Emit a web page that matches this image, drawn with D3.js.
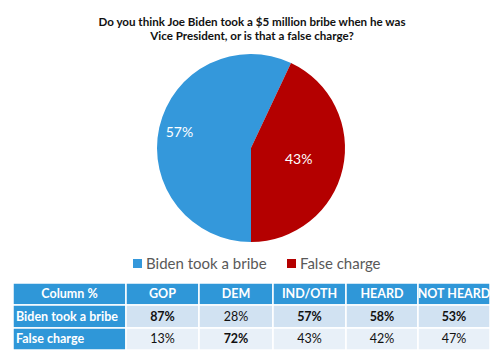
<!DOCTYPE html>
<html>
<head>
<meta charset="utf-8">
<script src="https://cdn.jsdelivr.net/npm/d3@7"></script>
<style>
  body { margin: 0; background: #fff; }
  svg { display: block; font-family: Lato, "Open Sans", sans-serif; }
</style>
</head>
<body>
<svg id="chart" width="500" height="361"></svg>
<script>
// pie data
const sliceLabels = ["Biden took a bribe", "False charge"];
const sliceValues = [57, 43];
const sliceColors = ["#3498db", "#b40000"];

// table data
const columnHeaders = ["Column %", "GOP", "DEM", "IND/OTH", "HEARD", "NOT HEARD"];
const rowLabels = ["Biden took a bribe", "False charge"];
const bribeRow = [87, 28, 57, 58, 53];
const falseRow = [13, 72, 43, 42, 47];
const bribeBold = [true, false, true, true, true];
const falseBold = [false, true, false, false, false];

const titleLines = [
    "Do you think Joe Biden took a $5 million bribe when he was",
    "Vice President, or is that a false charge?"
];

const svg = d3.select("#chart");

// Title
svg.append("g")
    .selectAll("text")
    .data(titleLines)
    .join("text")
    .attr("x", 252)
    .attr("y", (d, i) => 26 + i * 14)
    .attr("text-anchor", "middle")
    .attr("font-size", 11.6)
    .attr("font-weight", "bold")
    .attr("fill", "#111")
    .text(d => d);

// Pie, first slice starts at the bottom
const radius = 94;
const pie = d3.pie().sort(null).startAngle(Math.PI).endAngle(3 * Math.PI);
const arc = d3.arc().innerRadius(0).outerRadius(radius);
const arcs = pie(sliceValues);

const pieG = svg.append("g").attr("transform", "translate(251,148)");

pieG.selectAll("path")
    .data(arcs)
    .join("path")
    .attr("d", arc)
    .attr("fill", (d, i) => sliceColors[i]);

// label distance from centre, per slice (Excel-like placement)
const labelRadius = [0.78, 0.52];
pieG.selectAll("text")
    .data(arcs)
    .join("text")
    .attr("transform", (d, i) => {
        const r = radius * labelRadius[i];
        return `translate(${d3.arc().innerRadius(r).outerRadius(r).centroid(d)})`;
    })
    .attr("text-anchor", "middle")
    .attr("dy", "0.35em")
    .attr("font-size", 14)
    .attr("fill", "#fff")
    .text(d => d.value + "%");

// Legend
const legendX = [133, 287];
const legend = svg.append("g")
    .selectAll("g")
    .data(sliceLabels)
    .join("g")
    .attr("transform", (d, i) => `translate(${legendX[i]},264)`);

legend.append("rect")
    .attr("x", 0).attr("y", -5)
    .attr("width", 9).attr("height", 9)
    .attr("fill", (d, i) => sliceColors[i]);

legend.append("text")
    .attr("x", 13)
    .attr("dy", "0.35em")
    .attr("font-size", 15)
    .attr("fill", "#595959")
    .text(d => d);

// Table
const colEdges = [13, 126, 199, 273, 346, 418, 490];
const rowEdges = [283, 305, 328, 350];
const headerBlue = "#2f97d8";
const rowFills = ["#d1e2f2", "#e8f0f8"];

const rows = [
    {label: rowLabels[0], values: bribeRow, bold: bribeBold},
    {label: rowLabels[1], values: falseRow, bold: falseBold}
];

const table = svg.append("g");

// header row
columnHeaders.forEach((h, c) => {
    table.append("rect")
        .attr("x", colEdges[c]).attr("y", rowEdges[0])
        .attr("width", colEdges[c + 1] - colEdges[c]).attr("height", rowEdges[1] - rowEdges[0])
        .attr("fill", headerBlue)
        .attr("stroke", "#fff").attr("stroke-width", 1.5);
    table.append("text")
        .attr("x", (colEdges[c] + colEdges[c + 1]) / 2)
        .attr("y", (rowEdges[0] + rowEdges[1]) / 2)
        .attr("dy", "0.35em")
        .attr("text-anchor", "middle")
        .attr("font-size", 12.5)
        .attr("font-weight", "bold")
        .attr("fill", "#fff")
        .text(h);
});

// data rows
rows.forEach((row, r) => {
    const y0 = rowEdges[r + 1], y1 = rowEdges[r + 2];
    table.append("rect")
        .attr("x", colEdges[0]).attr("y", y0)
        .attr("width", colEdges[1] - colEdges[0]).attr("height", y1 - y0)
        .attr("fill", headerBlue)
        .attr("stroke", "#fff").attr("stroke-width", 1.5);
    table.append("text")
        .attr("x", colEdges[0] + 3)
        .attr("y", (y0 + y1) / 2)
        .attr("dy", "0.35em")
        .attr("font-size", 12.5)
        .attr("font-weight", "bold")
        .attr("fill", "#fff")
        .text(row.label);

    row.values.forEach((v, c) => {
        table.append("rect")
            .attr("x", colEdges[c + 1]).attr("y", y0)
            .attr("width", colEdges[c + 2] - colEdges[c + 1]).attr("height", y1 - y0)
            .attr("fill", rowFills[r])
            .attr("stroke", "#fff").attr("stroke-width", 1.5);
        table.append("text")
            .attr("x", (colEdges[c + 1] + colEdges[c + 2]) / 2)
            .attr("y", (y0 + y1) / 2)
            .attr("dy", "0.35em")
            .attr("text-anchor", "middle")
            .attr("font-size", 12.5)
            .attr("font-weight", row.bold[c] ? "bold" : "normal")
            .attr("fill", "#111")
            .text(v + "%");
    });
});
</script>
</body>
</html>
